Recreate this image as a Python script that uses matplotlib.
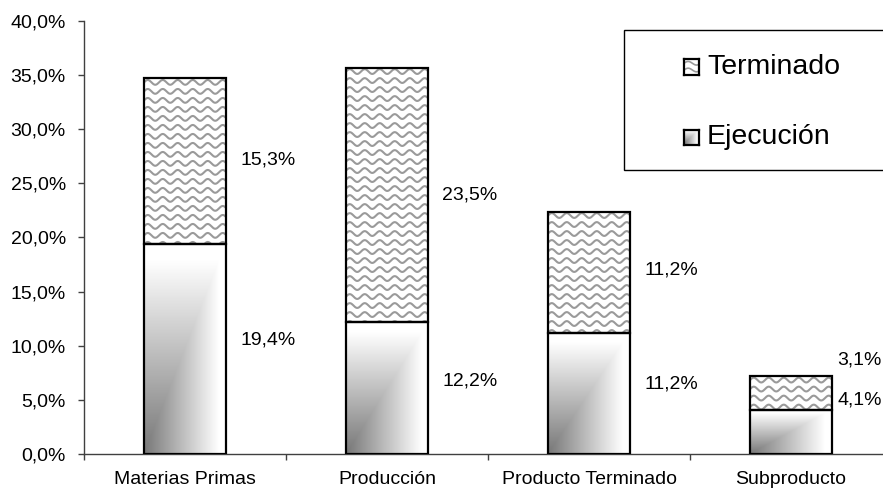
import matplotlib

matplotlib.use("Agg")
import matplotlib.pyplot as plt
import numpy as np
from matplotlib.patches import Rectangle
from matplotlib.ticker import FuncFormatter

plt.rcParams["font.family"] = ["Liberation Sans", "DejaVu Sans"]

categories = ["Materias Primas", "Producción", "Producto Terminado", "Subproducto"]
ejecucion = [19.4, 12.2, 11.2, 4.1]
terminado = [15.3, 23.5, 11.2, 3.1]

# label nudges so the small segments don't crowd each other
nudge_bottom = [0.8, 0.6, 0.9, 2.9]   # % units
nudge_top = [0.1, 0.0, 0.2, 3.0]      # % units
gap_px = [14, 14, 14, 5]              # gap between bar edge and label

W_PX, H_PX, DPI = 883, 492, 100
fig = plt.figure(figsize=(W_PX / DPI, H_PX / DPI), dpi=DPI)
# category axis is wider than the figure: last slot runs off the right edge
AX_L, AX_B, AX_W, AX_H = 84, 38, 808, 433
ax = fig.add_axes([AX_L / W_PX, AX_B / H_PX, AX_W / W_PX, AX_H / H_PX])

XLIM = (-0.5, 3.5)
YLIM = (0, 40)
ax.set_xlim(*XLIM)
ax.set_ylim(*YLIM)

# pixel -> data scale factors
px_x = (XLIM[1] - XLIM[0]) / AX_W
px_y = (YLIM[1] - YLIM[0]) / AX_H

BAR_W = 82 / 202
WAVE_COLOR = "#9a9a9a"


def gradient_img(nx, ny):
    # "from corner" fill: dark at bottom-left, white towards the other edges
    xn = np.linspace(0, 1, nx)[None, :]
    yn = np.linspace(1, 0, ny)[:, None]
    t = np.clip(np.maximum(xn, yn) * 1.08, 0, 1)
    return 0.47 + 0.53 * t


def draw_waves(axis, x0, y0, w, h, clip, spacing=9, wavelength=15, amp=2.4):
    xs = np.linspace(x0, x0 + w, 200)
    phase = (xs - x0) / px_x / wavelength * 2 * np.pi
    yrow = y0 + h - 4 * px_y
    while yrow > y0 - amp * px_y * 2:
        ln, = axis.plot(xs, yrow + amp * px_y * np.sin(phase), color=WAVE_COLOR,
                        lw=1.5, solid_capstyle="butt", zorder=2)
        ln.set_clip_path(clip)
        yrow -= spacing * px_y


for i, (e, t) in enumerate(zip(ejecucion, terminado)):
    x0 = i - BAR_W / 2
    # bottom segment: grey-to-white corner fill
    rb = Rectangle((x0, 0), BAR_W, e, facecolor="none", edgecolor="black",
                   lw=1.6, zorder=4)
    ax.add_patch(rb)
    img = ax.imshow(gradient_img(82, max(int(e / px_y), 2)), cmap="gray",
                    vmin=0, vmax=1, extent=(x0, x0 + BAR_W, 0, e),
                    aspect="auto", interpolation="bilinear", zorder=1)
    img.set_clip_path(rb)
    # top segment: wavy pattern on white
    rt = Rectangle((x0, e), BAR_W, t, facecolor="white", edgecolor="none", zorder=1)
    ax.add_patch(rt)
    ax.add_patch(Rectangle((x0, e), BAR_W, t, facecolor="none", edgecolor="black",
                           lw=1.6, zorder=4))
    draw_waves(ax, x0, e, BAR_W, t, rt)

    lx = i + BAR_W / 2 + gap_px[i] * px_x
    ax.text(lx, e / 2 + nudge_bottom[i], f"{e:.1f}%".replace(".", ","),
            fontsize=14, va="center", ha="left", clip_on=False)
    ax.text(lx, e + t / 2 + nudge_top[i], f"{t:.1f}%".replace(".", ","),
            fontsize=14, va="center", ha="left", clip_on=False)

ax.set_xticks(range(len(categories)))
ax.set_xticklabels(categories, fontsize=14)
ax.set_xticks([-0.5, 0.5, 1.5, 2.5], minor=True)
ax.tick_params(axis="x", which="major", length=0, pad=12)
ax.tick_params(axis="x", which="minor", length=4, width=1, color="#404040",
               direction="out")
ax.set_yticks(np.arange(0, 40.1, 5))
ax.yaxis.set_major_formatter(FuncFormatter(lambda v, _: f"{v:.1f}%".replace(".", ",")))
ax.tick_params(axis="y", length=4, width=1, color="#404040", labelsize=14, pad=9)

for side in ("top", "right"):
    ax.spines[side].set_visible(False)
for side in ("left", "bottom"):
    ax.spines[side].set_color("#404040")
    ax.spines[side].set_linewidth(1.0)

# legend box, running off the right edge
fig.patches.append(Rectangle((624 / W_PX, 1 - 170 / H_PX), 300 / W_PX, 140 / H_PX,
                             transform=fig.transFigure, facecolor="white",
                             edgecolor="black", lw=1.0, zorder=5))

icon_px = 15
for label, yc, kind in [("Terminado", 67, "wave"), ("Ejecución", 137, "grad")]:
    iax = fig.add_axes([684 / W_PX, 1 - (yc + icon_px / 2) / H_PX,
                        icon_px / W_PX, icon_px / H_PX], zorder=6)
    iax.set_xlim(0, 1)
    iax.set_ylim(0, 1)
    iax.set_xticks([])
    iax.set_yticks([])
    for s in iax.spines.values():
        s.set_linewidth(1.6)
        s.set_color("black")
    if kind == "grad":
        iax.imshow(gradient_img(20, 20), cmap="gray", vmin=0, vmax=1,
                   extent=(0, 1, 0, 1), aspect="auto", interpolation="bilinear")
    else:
        xs = np.linspace(0, 1, 50)
        for yr in (0.3, 0.75):
            iax.plot(xs, yr + 0.12 * np.sin(xs * 2 * np.pi * 0.9), color=WAVE_COLOR, lw=1.2)
    fig.text(707 / W_PX, 1 - yc / H_PX, label, fontsize=20.5, va="center",
             ha="left", zorder=7)

fig.savefig("out.png", dpi=DPI)
